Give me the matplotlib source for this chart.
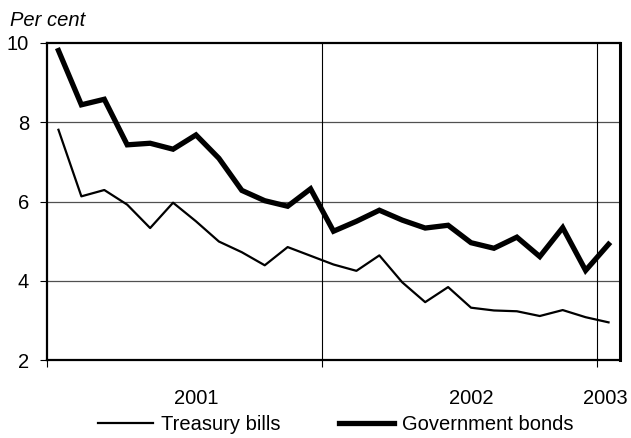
import matplotlib
matplotlib.use("Agg")
import matplotlib.pyplot as plt
import matplotlib.transforms as mtransforms
import numpy as np

plt.rcParams['font.family'] = ['Liberation Sans', 'DejaVu Sans']

treasury_bills = [7.81, 6.13, 6.29, 5.92, 5.33, 5.97, 5.50, 4.99, 4.72, 4.39, 4.85, 4.63, 4.41,
                  4.25, 4.64, 3.96, 3.46, 3.84, 3.32, 3.25, 3.23, 3.11, 3.26, 3.08, 2.95]
government_bonds = [9.81, 8.44, 8.58, 7.43, 7.47, 7.32, 7.68, 7.09, 6.28, 6.02, 5.88, 6.32, 5.25,
                    5.50, 5.78, 5.53, 5.33, 5.40, 4.96, 4.82, 5.10, 4.61, 5.34, 4.26, 4.92]
year_labels = ["2001", "2002", "2003"]
year_label_pos = [6, 18, 24]
year_boundaries = [-0.5, 11.5, 23.5]
y_ticks = [2, 4, 6, 8, 10]

FS = 14.5

fig = plt.figure(figsize=(6.31, 4.38), dpi=100)
ax = fig.add_axes([47/631, 78/438, 573/631, 317/438])

x = np.arange(len(treasury_bills))
l1, = ax.plot(x, treasury_bills, color='black', lw=1.6, label='Treasury bills', zorder=3)
l2, = ax.plot(x, government_bonds, color='black', lw=3.8, label='Government bonds', zorder=3,
              solid_joinstyle='miter')

ax.set_xlim(-0.5, 24.5)
ax.set_ylim(2, 10)
ax.set_yticks(y_ticks)
ax.set_yticklabels([str(v) for v in y_ticks])
ax.set_xticks(year_boundaries)
ax.set_xticklabels([])
ax.set_xticks(year_label_pos, minor=True)
ax.set_xticklabels(year_labels, minor=True)

ax.tick_params(axis='y', which='major', direction='out', length=5, width=0.8,
               labelsize=FS, pad=8)
ax.tick_params(axis='x', which='major', direction='out', length=5, width=0.8)
ax.tick_params(axis='x', which='minor', length=0, labelsize=FS, pad=21)

# nudge the last year label slightly left so it stays inside the canvas
last_lbl = ax.get_xticklabels(minor=True)[-1]
last_lbl.set_transform(last_lbl.get_transform() +
                       mtransforms.ScaledTranslation(-3/100, 0, fig.dpi_scale_trans))

for yv in y_ticks[1:-1]:
    ax.axhline(yv, color='#505050', lw=0.9, zorder=1)
for xv in year_boundaries[1:]:
    ax.axvline(xv, color='black', lw=0.8, zorder=1)

for s in ax.spines.values():
    s.set_linewidth(1.6)
ax.spines['right'].set_linewidth(2.2)

fig.text(10/631, 1 - 20/438, "Per cent", fontsize=FS, style='italic', va='center', ha='left')

fig.legend(handles=[l1, l2], loc='center', bbox_to_anchor=(336/631, 13/438), ncol=2,
           frameon=False, fontsize=FS, handlelength=2.73, handletextpad=0.4,
           columnspacing=2.9, borderpad=0, borderaxespad=0)

fig.savefig("out.png", dpi=100)
